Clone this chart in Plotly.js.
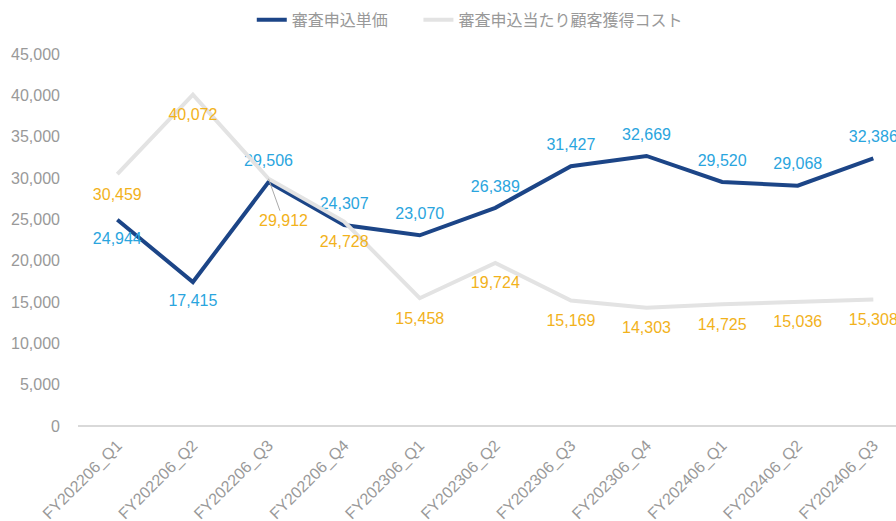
<!DOCTYPE html>
<html><head><meta charset="utf-8">
<script src="https://cdn.plot.ly/plotly-3.0.1.min.js"></script>
<style>html,body{margin:0;padding:0;background:#fff;}#chart{width:896px;height:521px;}</style>
</head><body><div id="chart"></div>
<script>
const categories = ["FY202206_Q1","FY202206_Q2","FY202206_Q3","FY202206_Q4","FY202306_Q1","FY202306_Q2","FY202306_Q3","FY202306_Q4","FY202406_Q1","FY202406_Q2","FY202406_Q3"];
const unitPrice = [24944,17415,29506,24307,23070,26389,31427,32669,29520,29068,32386];
const acqCost = [30459,40072,29912,24728,15458,19724,15169,14303,14725,15036,15308];
const unitPos = ["bottom center","bottom center","top center","top center","top center","top center","top center","top center","top center","top center","top center"];
const seriesNames = ["審査申込単価","審査申込当たり顧客獲得コスト"];

const fmt = v => v.toLocaleString("en-US");
const FONT = "Liberation Sans, Arial, Noto Sans CJK JP, sans-serif";

const acqText = acqCost.map((v,i)=> i===2 ? "" : fmt(v));
const clear = "rgba(0,0,0,0)";

const traces = [
  {x:categories, y:unitPrice, name:seriesNames[0], mode:"lines+markers+text", type:"scatter",
   line:{color:"#1C4587", width:4}, marker:{size:18, color:clear, line:{width:0, color:clear}},
   text:unitPrice.map(fmt), textposition:unitPos, legend:"legend",
   textfont:{color:"#2AA5DE", size:16, family:FONT}, cliponaxis:false},
  {x:categories, y:acqCost, name:seriesNames[1], mode:"lines+markers+text", type:"scatter",
   line:{color:"#E3E3E3", width:4}, marker:{size:20, color:clear, line:{width:0, color:clear}},
   text:acqText, textposition:"bottom center", legend:"legend2",
   textfont:{color:"#F2B21B", size:16, family:FONT}, cliponaxis:false}
];

const legendBase = {orientation:"h", xref:"container", xanchor:"left", yref:"container", y:0.962, yanchor:"middle",
          font:{size:16, color:"#999999"}, bgcolor:"rgba(0,0,0,0)"};

const layout = {
  width:896, height:521,
  margin:{l:78, r:0, t:54, b:95},
  paper_bgcolor:"#fff", plot_bgcolor:"#fff",
  font:{family:FONT, color:"#999999", size:16},
  showlegend:true,
  legend:Object.assign({}, legendBase, {x:0.281}),
  legend2:Object.assign({}, legendBase, {x:0.467}),
  xaxis:{type:"category", range:[-0.52,10.3], tickangle:-45, showgrid:false,
         showline:false, zeroline:false, ticks:"", tickfont:{size:16,color:"#999999"}, ticklabelstandoff:6},
  yaxis:{range:[0,45000], dtick:5000, tickformat:",d", showgrid:false, zeroline:true,
         zerolinecolor:"#D9D9D9", zerolinewidth:1.5, showline:false, ticks:"",
         tickfont:{size:16,color:"#999999"}, ticklabelstandoff:17},
  annotations:[{x:categories[2], y:acqCost[2], xref:"x", yref:"y", text:fmt(acqCost[2]),
    showarrow:true, arrowhead:0, arrowwidth:1, arrowcolor:"#AAAAAA", ax:15, ay:42,
    font:{color:"#F2B21B", size:16, family:FONT}}]
};
Plotly.newPlot("chart", traces, layout, {displayModeBar:false, staticPlot:true});
</script></body></html>
